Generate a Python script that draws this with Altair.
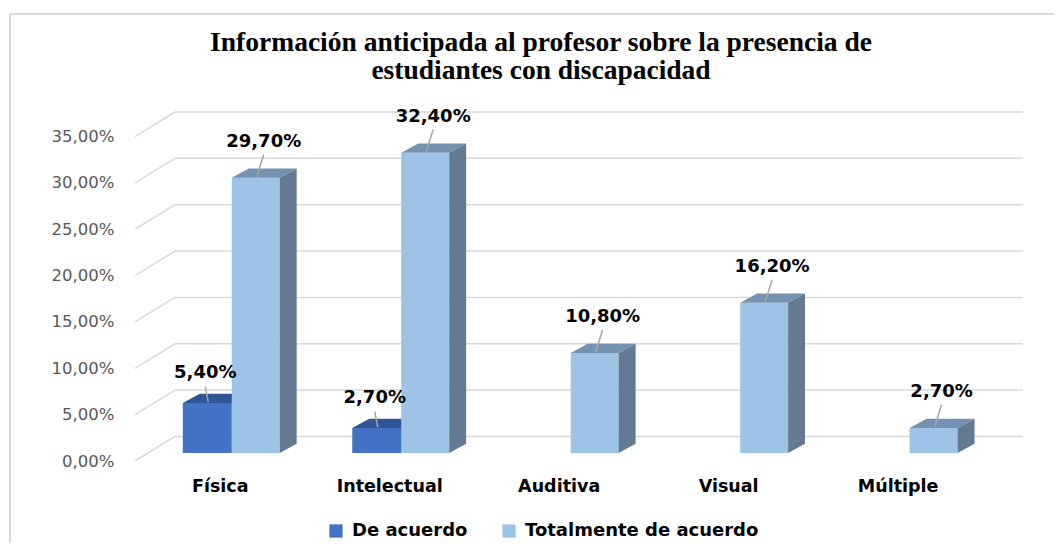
import json
import altair as alt
import pandas as pd

# ---------------- data ----------------
categories = ["Física", "Intelectual", "Auditiva", "Visual", "Múltiple"]
series_names = ["De acuerdo", "Totalmente de acuerdo"]
de_acuerdo = [5.40, 2.70, None, None, None]
totalmente_de_acuerdo = [29.70, 32.40, 10.80, 16.20, 2.70]
y_ticks = [0, 5, 10, 15, 20, 25, 30, 35]
title_lines = ["Información anticipada al profesor sobre la presencia de",
               "estudiantes con discapacidad"]

# ---------------- style (3D look) ----------------
BASE = 0.86          # bar floor raised above the front edge (in % units)
DX, DY = 0.10, 1.0   # bar depth (category units, % units)
BX, BY = 0.236, 2.65 # wall depth
X_MIN, X_MAX = -0.5, 4.74
Y_MAX = 35 + BY
bar_span = {0: (-0.218, 0.071), 1: (0.071, 0.354)}
front_col = {0: "#4472C4", 1: "#9DC3E6"}
top_col = {0: "#2F5597", 1: "#7592B3"}
side_col = {0: "#2F528F", 1: "#647A92"}
label_dx = {0: -0.012, 1: 0.047}
label_dy = {0: 3.2, 1: 3.9}
leader_top = {0: 1.8, 1: 2.5}

fronts, faces, labels, leaders = [], [], [], []
for s, vals in enumerate([de_acuerdo, totalmente_de_acuerdo]):
    for i, v in enumerate(vals):
        if v is None:
            continue
        xl, xr = i + bar_span[s][0], i + bar_span[s][1]
        top = BASE + v
        fronts.append(dict(s=s, series=series_names[s], x=xl, x2=xr, y=BASE, y2=top))
        fid = f"t{s}_{i}"
        for (x, lo, hi) in [(xl, top, top), (xl + DX, top, top + DY),
                            (xr, top, top + DY), (xr + DX, top + DY, top + DY)]:
            faces.append(dict(s=s, kind="top", fid=fid, x=x, y2=lo, y=hi))
        fid = f"s{s}_{i}"
        for (x, lo, hi) in [(xr, BASE, top), (xr + DX, BASE + DY, top + DY)]:
            faces.append(dict(s=s, kind="side", fid=fid, x=x, y2=lo, y=hi))
        cx = (xl + xr) / 2
        labels.append(dict(s=s, x=cx + label_dx[s], y=top + label_dy[s],
                           text=f"{v:.2f}".replace(".", ",") + "%"))
        leaders.append(dict(s=s, x=cx + 0.006, y=top + 0.1,
                            x2=cx + label_dx[s], y2=top + leader_top[s]))

grid = []
for t in y_ticks:
    grid.append(dict(x=X_MIN + BX, x2=X_MAX, y=t + BY, y2=t + BY))
    grid.append(dict(x=X_MIN, x2=X_MIN + BX, y=t, y2=t + BY))

df_front = pd.DataFrame(fronts)
df_faces = pd.DataFrame(faces)
df_labels = pd.DataFrame(labels)
df_leaders = pd.DataFrame(leaders)
df_grid = pd.DataFrame(grid)

xscale = alt.Scale(domain=[X_MIN, X_MAX], nice=False, zero=False)
yscale = alt.Scale(domain=[0, Y_MAX], nice=False, zero=False)

cat_expr = json.dumps(categories, ensure_ascii=False) + "[datum.value]"

x_axis = alt.Axis(values=list(range(len(categories))), labelExpr=cat_expr,
                  title=None, domain=False, ticks=False, grid=False,
                  labelFont="DejaVu Sans", labelFontWeight="bold", labelFontSize=17.5,
                  labelColor="#000000", labelPadding=16, labelFlush=False)
y_axis = alt.Axis(values=y_ticks,
                  labelExpr="replace(format(datum.value, '.2f'), '.', ',') + '%'",
                  title=None, domain=False, ticks=False, grid=False,
                  labelFont="DejaVu Sans", labelFontSize=16.5, labelColor="#595959",
                  labelPadding=21)


def X(f="x"):
    return alt.X(f"{f}:Q", scale=xscale, axis=x_axis)


def Y(f="y"):
    return alt.Y(f"{f}:Q", scale=yscale, axis=y_axis)


grid_layer = alt.Chart(df_grid).mark_rule(color="#D9D9D9", strokeWidth=1.5).encode(
    x=X(), x2="x2:Q", y=Y(), y2="y2:Q")

color_enc = alt.Color(
    "series:N",
    scale=alt.Scale(domain=series_names, range=[front_col[0], front_col[1]]),
    legend=alt.Legend(title=None, orient="none", legendX=192, legendY=410,
                      direction="horizontal", symbolType="square", symbolSize=175,
                      symbolStrokeWidth=0, labelFont="DejaVu Sans",
                      labelFontWeight="bold", labelFontSize=18, labelColor="#000000",
                      labelOffset=7, columnPadding=32, labelLimit=400),
)


def bar_layers(s):
    fr = alt.Chart(df_front[df_front.s == s]).mark_rect().encode(
        x=X(), x2="x2:Q", y=Y(), y2="y2:Q", color=color_enc)
    out = [fr]
    for kind, col in [("top", top_col[s]), ("side", side_col[s])]:
        d = df_faces[(df_faces.s == s) & (df_faces.kind == kind)]
        out.append(alt.Chart(d).mark_area(color=col, opacity=1, interpolate="linear").encode(
            x=X(), y=Y(), y2="y2:Q", detail="fid:N"))
    return out


leader_layer = alt.Chart(df_leaders).mark_rule(color="#A6A6A6", strokeWidth=1.5).encode(
    x=X(), x2="x2:Q", y=Y(), y2="y2:Q")
label_layer = alt.Chart(df_labels).mark_text(
    font="DejaVu Sans", fontWeight="bold", fontSize=18, color="#000000",
    baseline="middle", align="center"
).encode(x=X(), y=Y(), text="text:N")

one = df_grid.head(1)
title_layer = alt.Chart(one).mark_text(
    font="Liberation Serif", fontWeight="bold", fontSize=27.5, color="#000000",
    align="center", baseline="alphabetic", lineHeight=28
).encode(x=alt.value(406), y=alt.value(-61), text=alt.value(title_lines))

frame_top = alt.Chart(one).mark_rule(color="#D9D9D9", strokeWidth=2).encode(
    x=alt.value(-125), x2=alt.value(930), y=alt.value(-98))
frame_left = alt.Chart(one).mark_rule(color="#D9D9D9", strokeWidth=2).encode(
    x=alt.value(-125), y=alt.value(-98), y2=alt.value(440))

chart = alt.layer(
    grid_layer, *bar_layers(0), *bar_layers(1), leader_layer, label_layer,
    title_layer, frame_top, frame_left,
).properties(
    width=888, height=349,
    autosize=alt.AutoSizeParams(type="none"),
    padding={"left": 127, "top": 104, "right": 31, "bottom": 82},
).configure(background="#FFFFFF").configure_view(stroke=None)

chart.save("out.html", embed_options={"renderer": "svg", "actions": False})
